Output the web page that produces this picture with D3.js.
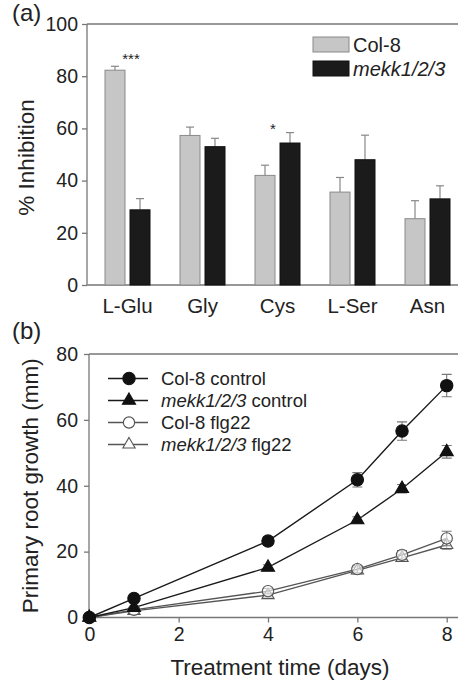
<!DOCTYPE html>
<html>
<head>
<meta charset="utf-8">
<script src="https://cdn.jsdelivr.net/npm/d3@7"></script>
<style>
  body { margin: 0; background: #fff; }
  text { font-family: "Liberation Sans", Arial, sans-serif; fill: #222; }
</style>
</head>
<body>
<div id="chart"></div>
<script>
// panel (a) data
const categories = ["L-Glu", "Gly", "Cys", "L-Ser", "Asn"];
const genotypes = ["Col-8", "mekk1/2/3"];
const col8Inhib = [82.3, 57.3, 42.0, 35.6, 25.4];
const col8InhibErr = [1.5, 3.2, 3.9, 5.6, 6.9];
const mekkInhib = [28.8, 53.0, 54.4, 48.0, 33.0];
const mekkInhibErr = [4.3, 3.2, 4.0, 9.4, 5.0];
const stars = [{cat: "L-Glu", text: "***", y: 84.7}, {cat: "Cys", text: "*", y: 57.9}];
const yTicksA = [0, 20, 40, 60, 80, 100];

// panel (b) data
const days = [0, 1, 4, 6, 7, 8];
const col8Ctrl = [0, 5.8, 23.2, 41.8, 56.6, 70.4];
const col8CtrlErr = [0, 0.6, 1.3, 2.2, 2.8, 3.4];
const mekkCtrl = [0, 3.0, 15.2, 29.6, 39.1, 50.3];
const mekkCtrlErr = [0, 0.4, 0.8, 1.0, 1.3, 1.9];
const col8Flg = [0, 2.3, 8.0, 14.7, 19.0, 24.0];
const col8FlgErr = [0, 0.3, 0.8, 1.1, 1.3, 2.2];
const mekkFlg = [0, 2.0, 6.8, 14.3, 18.1, 22.0];
const mekkFlgErr = [0, 0.3, 0.6, 1.0, 1.1, 1.3];
const xTicksB = [0, 2, 4, 6, 8];
const yTicksB = [0, 20, 40, 60, 80];

const width = 458, height = 680;
const axisColor = "#777";

const svg = d3.select("#chart").append("svg")
    .attr("width", width)
    .attr("height", height);

// ---------- panel (a) ----------
const xa = d3.scaleBand().domain(categories).range([90, 465]);
const xsub = d3.scaleBand().domain(genotypes).range([15, 60]).paddingInner(0.2);
const ya = d3.scaleLinear().domain([0, 100]).range([285, 24]);

const ga = svg.append("g");

// frame
ga.append("path")
  .attr("d", `M87,${ya(100)}H470M87,${ya(100)}V${ya(0)}H470`)
  .attr("fill", "none").attr("stroke", axisColor).attr("stroke-width", 1.3);

const yAxisA = ga.append("g")
  .attr("transform", "translate(87,0)")
  .call(d3.axisLeft(ya).tickValues(yTicksA).tickSize(5).tickPadding(4));
yAxisA.select(".domain").remove();
yAxisA.selectAll("line").attr("stroke", axisColor).attr("stroke-width", 1.3);
yAxisA.selectAll("text").attr("font-size", 19.5).attr("fill", "#222")
  .style("font-family", "Liberation Sans, Arial, sans-serif");

ga.append("g").selectAll("text")
  .data(categories)
  .join("text")
    .attr("x", d => xa(d) + 37.5)
    .attr("y", 313)
    .attr("text-anchor", "middle")
    .attr("font-size", 20.5)
    .text(d => d);

const barData = [];
categories.forEach((c, i) => {
  barData.push({cat: c, g: "Col-8", v: col8Inhib[i], e: col8InhibErr[i]});
  barData.push({cat: c, g: "mekk1/2/3", v: mekkInhib[i], e: mekkInhibErr[i]});
});

// error bars (upper only)
const errA = ga.append("g").attr("stroke", "#888").attr("stroke-width", 1.2);
barData.forEach(d => {
  const cx = xa(d.cat) + xsub(d.g) + xsub.bandwidth() / 2;
  errA.append("line").attr("x1", cx).attr("x2", cx)
    .attr("y1", ya(d.v)).attr("y2", ya(d.v + d.e));
  errA.append("line").attr("x1", cx - 4).attr("x2", cx + 4)
    .attr("y1", ya(d.v + d.e)).attr("y2", ya(d.v + d.e));
});

ga.append("g").selectAll("rect")
  .data(barData)
  .join("rect")
    .attr("x", d => xa(d.cat) + xsub(d.g))
    .attr("y", d => ya(d.v))
    .attr("width", xsub.bandwidth())
    .attr("height", d => ya(0) - ya(d.v))
    .attr("fill", d => d.g === "Col-8" ? "#c6c6c6" : "#1b1b1b")
    .attr("stroke", d => d.g === "Col-8" ? "#8a8a8a" : "#111")
    .attr("stroke-width", 1);

ga.append("g").selectAll("text")
  .data(stars)
  .join("text")
    .attr("x", d => xa(d.cat) + 37.5 + (d.text.length > 1 ? 3.5 : -4.5))
    .attr("y", d => ya(d.y))
    .attr("text-anchor", "middle")
    .attr("font-size", 15)
    .attr("fill", "#444")
    .text(d => d.text);

// legend (a)
const legA = ga.append("g");
genotypes.forEach((g, i) => {
  legA.append("rect")
    .attr("x", 313).attr("y", 37 + i * 24)
    .attr("width", 36).attr("height", 15)
    .attr("fill", i === 0 ? "#c6c6c6" : "#1b1b1b")
    .attr("stroke", i === 0 ? "#8a8a8a" : "#111");
  legA.append("text")
    .attr("x", 353).attr("y", 52 + i * 24)
    .attr("font-size", 20)
    .attr("font-style", i === 0 ? "normal" : "italic")
    .text(g);
});

ga.append("text")
  .attr("transform", `translate(34,${(ya(0) + ya(100)) / 2 + 3}) rotate(-90)`)
  .attr("text-anchor", "middle")
  .attr("font-size", 22.5)
  .text("% Inhibition");

svg.append("text").attr("x", 12).attr("y", 21).attr("font-size", 24).text("(a)");

// ---------- panel (b) ----------
const xb = d3.scaleLinear().domain([0, 8]).range([89.3, 446.7]);
const yb = d3.scaleLinear().domain([0, 80]).range([617.5, 354]);

const gb = svg.append("g");

gb.append("path")
  .attr("d", `M89,${yb(80)}H470M89,${yb(80)}V${yb(0)}H470`)
  .attr("fill", "none").attr("stroke", axisColor).attr("stroke-width", 1.3);

const yAxisB = gb.append("g")
  .attr("transform", "translate(89,0)")
  .call(d3.axisLeft(yb).tickValues(yTicksB).tickSize(5).tickPadding(6));
yAxisB.select(".domain").remove();
yAxisB.selectAll("line").attr("stroke", axisColor).attr("stroke-width", 1.3);
yAxisB.selectAll("text").attr("font-size", 19.5).attr("fill", "#222")
  .style("font-family", "Liberation Sans, Arial, sans-serif");

const xAxisB = gb.append("g")
  .attr("transform", `translate(0,${yb(0)})`)
  .call(d3.axisBottom(xb).tickValues(xTicksB).tickSize(5).tickPadding(5));
xAxisB.select(".domain").remove();
xAxisB.selectAll("line").attr("stroke", axisColor).attr("stroke-width", 1.3);
xAxisB.selectAll("text").attr("font-size", 19.5).attr("fill", "#222")
  .style("font-family", "Liberation Sans, Arial, sans-serif");

const series = [
  {name: "mekk1/2/3", suffix: " flg22", v: mekkFlg, e: mekkFlgErr, shape: d3.symbolTriangle, filled: false},
  {name: "Col-8", suffix: " flg22", v: col8Flg, e: col8FlgErr, shape: d3.symbolCircle, filled: false},
  {name: "mekk1/2/3", suffix: " control", v: mekkCtrl, e: mekkCtrlErr, shape: d3.symbolTriangle, filled: true},
  {name: "Col-8", suffix: " control", v: col8Ctrl, e: col8CtrlErr, shape: d3.symbolCircle, filled: true}
];

const line = d3.line().x(d => xb(d.x)).y(d => yb(d.y));

series.forEach(s => {
  const pts = days.map((x, i) => ({x: x, y: s.v[i], e: s.e[i]}));
  const col = s.filled ? "#1a1a1a" : "#555";
  const g = gb.append("g");
  g.append("path").datum(pts)
    .attr("d", line)
    .attr("fill", "none").attr("stroke", col).attr("stroke-width", 1.4);
  pts.filter(p => p.e > 0).forEach(p => {
    const cx = xb(p.x);
    g.append("path")
      .attr("d", `M${cx},${yb(p.y - p.e)}V${yb(p.y + p.e)}M${cx - 5},${yb(p.y - p.e)}H${cx + 5}M${cx - 5},${yb(p.y + p.e)}H${cx + 5}`)
      .attr("fill", "none").attr("stroke", "#777").attr("stroke-width", 1.1);
  });
  const size = s.shape === d3.symbolCircle ? (s.filled ? 120 : 100) : (s.filled ? 75 : 65);
  g.selectAll(".m").data(pts).join("path")
    .attr("transform", p => `translate(${xb(p.x)},${yb(p.y)})`)
    .attr("d", d3.symbol().type(s.shape).size(size))
    .attr("fill", s.filled ? "#111" : "#fff")
    .attr("fill-opacity", s.filled ? 1 : 0.6)
    .attr("stroke", s.filled ? "#111" : "#555")
    .attr("stroke-width", 1.1);
});

// legend (b)
const legOrder = [series[3], series[2], series[1], series[0]];
const legB = gb.append("g");
legOrder.forEach((s, i) => {
  const yy = 378.5 + i * 22;
  const col = s.filled ? "#1a1a1a" : "#555";
  legB.append("line").attr("x1", 108).attr("x2", 148).attr("y1", yy).attr("y2", yy)
    .attr("stroke", col).attr("stroke-width", 1.4);
  const size = s.shape === d3.symbolCircle ? (s.filled ? 120 : 100) : (s.filled ? 75 : 65);
  legB.append("path")
    .attr("transform", `translate(129,${yy})`)
    .attr("d", d3.symbol().type(s.shape).size(size)())
    .attr("fill", s.filled ? "#111" : "#fff")
    .attr("stroke", s.filled ? "#111" : "#555")
    .attr("stroke-width", 1.1);
  const t = legB.append("text").attr("x", 161).attr("y", yy + 6.5).attr("font-size", 18.5);
  t.append("tspan").attr("font-style", s.name === "Col-8" ? "normal" : "italic").text(s.name);
  t.append("tspan").text(s.suffix);
});

gb.append("text")
  .attr("x", 280).attr("y", 675)
  .attr("text-anchor", "middle")
  .attr("font-size", 22.5)
  .text("Treatment time (days)");

gb.append("text")
  .attr("transform", `translate(38,${(yb(0) + yb(80)) / 2}) rotate(-90)`)
  .attr("text-anchor", "middle")
  .attr("font-size", 22.5)
  .text("Primary root growth (mm)");

svg.append("text").attr("x", 12).attr("y", 339).attr("font-size", 24).text("(b)");
</script>
</body>
</html>
